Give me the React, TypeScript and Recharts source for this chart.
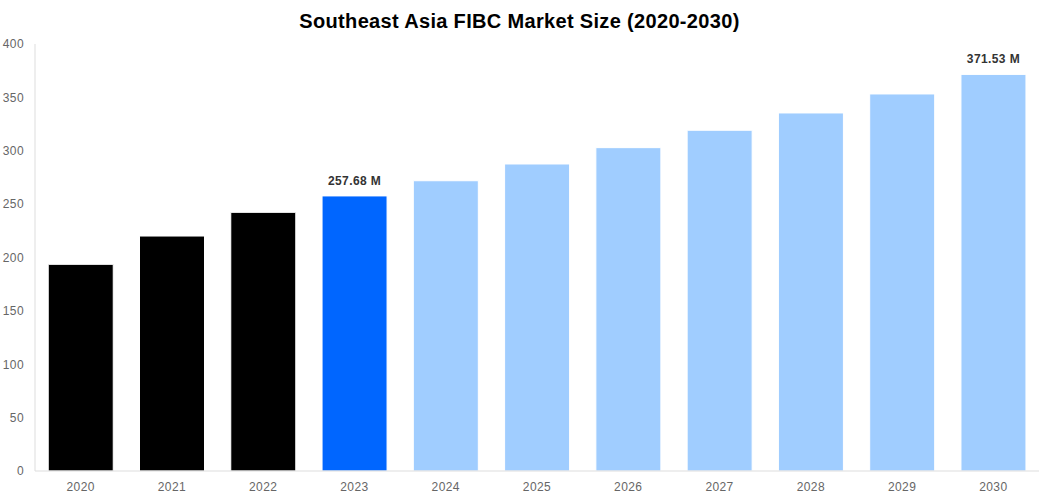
import React from "react";
import { BarChart, Bar, XAxis, YAxis, Cell, LabelList } from "recharts";

const years = ["2020", "2021", "2022", "2023", "2024", "2025", "2026", "2027", "2028", "2029", "2030"];
const marketSize = [193.6, 220.1, 242.3, 257.68, 271.9, 287.6, 302.9, 319.2, 335.4, 353.2, 371.53];
const barColors = ["#000000", "#000000", "#000000", "#0066FF", "#A0CDFF", "#A0CDFF", "#A0CDFF", "#A0CDFF", "#A0CDFF", "#A0CDFF", "#A0CDFF"];
const labeledYears = ["2023", "2030"];
const yTicks = [0, 50, 100, 150, 200, 250, 300, 350, 400];
const title = "Southeast Asia FIBC Market Size (2020-2030)";

const data = years.map((year, i) => ({ year, value: marketSize[i] }));

const FONT = "'Liberation Sans', Arial, Helvetica, sans-serif";

const renderLabel = (props: any) => {
  const { x, y, width, value, index } = props;
  if (!labeledYears.includes(years[index])) return null;
  return (
    <text
      x={x + width / 2}
      y={y - 11}
      textAnchor="middle"
      fontSize={12}
      fontWeight="bold"
      fill="#333"
      fontFamily={FONT}
      style={{ letterSpacing: "0.4px" }}
    >
      {`${value} M`}
    </text>
  );
};

export default function App() {
  return (
    <div style={{ position: "absolute", left: 0, top: 0, width: 1039, height: 500, background: "#fff", fontFamily: FONT }}>
      <div
        style={{
          position: "absolute",
          left: 0,
          top: 9,
          width: 1039,
          textAlign: "center",
          fontSize: 20,
          fontWeight: "bold",
          color: "#000",
          lineHeight: "24px",
          letterSpacing: "0.33px",
        }}
      >
        {title}
      </div>
      <BarChart
        width={1039}
        height={500}
        data={data}
        margin={{ top: 44, right: 0, bottom: 0, left: 0 }}
        barCategoryGap="14.5%"
      >
        <XAxis
          dataKey="year"
          tickLine={false}
          axisLine={{ stroke: "#ddd" }}
          tick={{ fill: "#666", fontSize: 12, fontFamily: FONT, style: { letterSpacing: "0.4px" } }}
          tickMargin={5}
          height={29}
          interval={0}
        />
        <YAxis
          domain={[0, 400]}
          ticks={yTicks}
          tickLine={false}
          axisLine={{ stroke: "#ddd" }}
          tick={{ fill: "#666", fontSize: 12, fontFamily: FONT, style: { letterSpacing: "0.4px" } }}
          tickMargin={5}
          width={35}
          interval={0}
        />
        <Bar dataKey="value" isAnimationActive={false} stroke="#fff" strokeWidth={1}>
          {data.map((d, i) => (
            <Cell key={d.year} fill={barColors[i]} />
          ))}
          <LabelList dataKey="value" content={renderLabel} />
        </Bar>
      </BarChart>
    </div>
  );
}
